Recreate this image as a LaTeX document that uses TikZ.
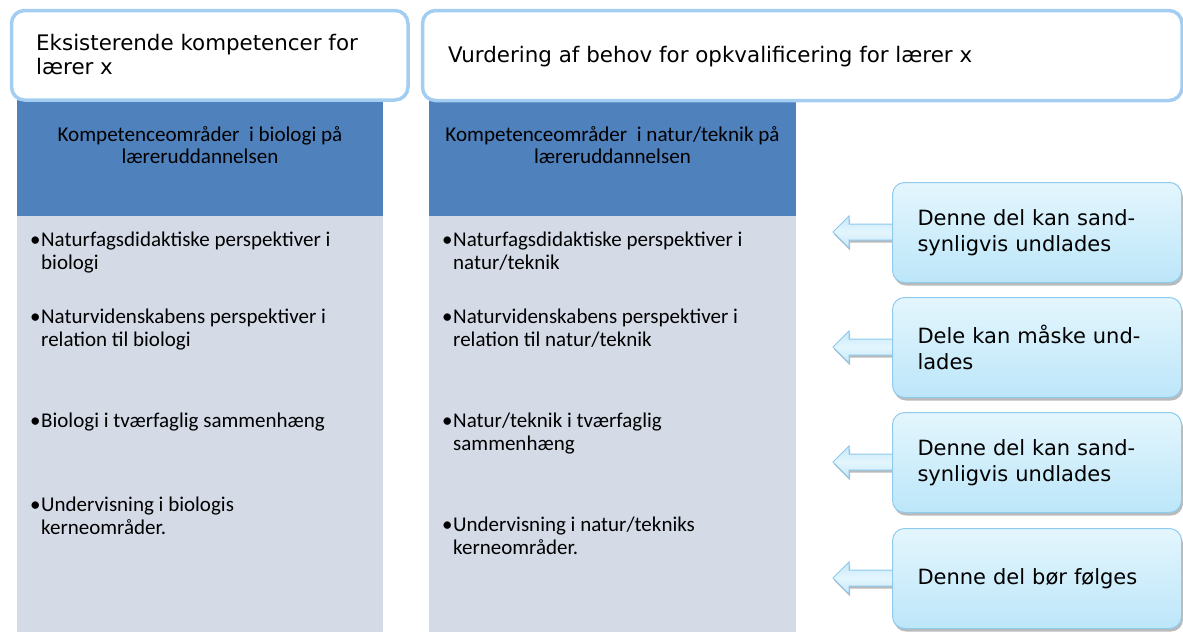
\documentclass[tikz,border=0pt]{standalone}
\usepackage{fontspec}
\setmainfont{DejaVu Sans}
\newfontfamily\verdfont{DejaVu Sans}
\newfontfamily\califont{Carlito}
\usetikzlibrary{calc,shadows}
\definecolor{topborder}{HTML}{A3CEF1}
\definecolor{headblue}{HTML}{4F81BD}
\definecolor{bodyblue}{HTML}{D4DBE7}
\definecolor{callborder}{HTML}{8FCBEF}
\definecolor{calltop}{HTML}{E4F6FD}
\definecolor{callbot}{HTML}{BCE6F9}
\definecolor{arrowborder}{HTML}{8CC8EC}
\definecolor{arrowfill}{HTML}{C6E8FA}
\newcommand{\blockarrow}[1]{%
  \draw[blockarr] ($(#1.north west)+(2,42)$) -- ++(-45,0) -- ++(0,-8) -- ++(-16,16)
    -- ++(16,16) -- ++(0,-8) -- ++(45,0) -- cycle;}
\begin{document}
\begin{tikzpicture}[x=1pt,y=-1pt,
  topbox/.style={draw=topborder, line width=3.5pt, rounded corners=13pt, fill=white, anchor=north west, inner sep=0pt},
  topfont/.style={font=\verdfont\fontsize{21.4}{24}\selectfont, align=left, anchor=base west, inner sep=0pt},
  headbox/.style={fill=headblue, anchor=north west, inner sep=0pt, minimum height=116pt},
  bodybox/.style={fill=bodyblue, anchor=north west, inner sep=0pt, minimum height=416pt},
  headtext/.style={font=\califont\fontsize{21.1}{22}\selectfont, align=center, anchor=base, inner sep=0pt},
  bullet/.style={font=\califont\fontsize{21}{23}\selectfont, align=left, anchor=base west, inner sep=0pt},
  callout/.style={draw=callborder, line width=1pt, rounded corners=12pt,
    top color=calltop, bottom color=callbot, anchor=north west,
    minimum width=289pt, minimum height=100pt, text width=239pt, inner xsep=25pt, align=left,
    font=\verdfont\fontsize{21}{25.5}\selectfont,
    drop shadow={shadow xshift=1.5pt, shadow yshift=-3pt, opacity=0.45, fill=black!60}},
  blockarr/.style={draw=arrowborder, line width=1pt, line join=miter,
    top color=arrowfill, bottom color=arrowfill, middle color=calltop,
    drop shadow={shadow xshift=1pt, shadow yshift=-2.5pt, opacity=0.45, fill=black!60}}
]
\useasboundingbox (0,0) rectangle (1183,632);

% columns
\node[bodybox, minimum width=366pt] (body1) at (17,216) {};
\node[headbox, minimum width=366pt] (head1) at (17,100) {};
\node[bodybox, minimum width=367pt] (body2) at (429,216) {};
\node[headbox, minimum width=367pt] (head2) at (429,100) {};

% top boxes
\node[topbox, minimum width=396.5pt, minimum height=89.5pt] (top1) at (9.75,8.75) {};
\node[topbox, minimum width=759.5pt, minimum height=90pt] (top2) at (420.75,8.75) {};
\node[topfont] (top1t) at (36,74) {Eksisterende kompetencer for\\lærer x};
\node[topfont] (top2t) at (448,62) {Vurdering af behov for opkvalificering for lærer x};

% header texts (anchor = baseline of last line)
\node[headtext] (h1t) at (200,163) {Kompetenceområder\ \ i biologi på\\læreruddannelsen};
\node[headtext] (h2t) at (612.5,163) {Kompetenceområder\ \ i natur/teknik på\\læreruddannelsen};

% bullets column 1 (anchor = baseline of last line)
\newcommand{\bul}{\llap{\makebox[11pt][l]{•}}}
\node[bullet] (b11) at (41,269) {\bul Naturfagsdidaktiske perspektiver i\\biologi};
\node[bullet] (b12) at (41,346) {\bul Naturvidenskabens perspektiver i\\relation til biologi};
\node[bullet] (b13) at (41,427) {\bul Biologi i tværfaglig sammenhæng};
\node[bullet] (b14) at (41,534) {\bul Undervisning i biologis\\kerneområder.};

% bullets column 2
\node[bullet] (b21) at (453,269) {\bul Naturfagsdidaktiske perspektiver i\\natur/teknik};
\node[bullet] (b22) at (453,346) {\bul Naturvidenskabens perspektiver i\\relation til natur/teknik};
\node[bullet] (b23) at (453,450) {\bul Natur/teknik i tværfaglig\\sammenhæng};
\node[bullet] (b24) at (453,554) {\bul Undervisning i natur/tekniks\\kerneområder.};

% callout anchors
\coordinate (c1) at (892,182);
\coordinate (c2) at (892,297);
\coordinate (c3) at (892,412);
\coordinate (c4) at (892,528);
\blockarrow{c1}
\blockarrow{c2}
\blockarrow{c3}
\blockarrow{c4}
\node[callout] (box1) at (c1) {Denne del kan sand-\\synligvis undlades};
\node[callout] (box2) at (c2) {Dele kan måske und-\\lades};
\node[callout] (box3) at (c3) {Denne del kan sand-\\synligvis undlades};
\node[callout] (box4) at (c4) {Denne del bør følges};
\end{tikzpicture}
\end{document}
